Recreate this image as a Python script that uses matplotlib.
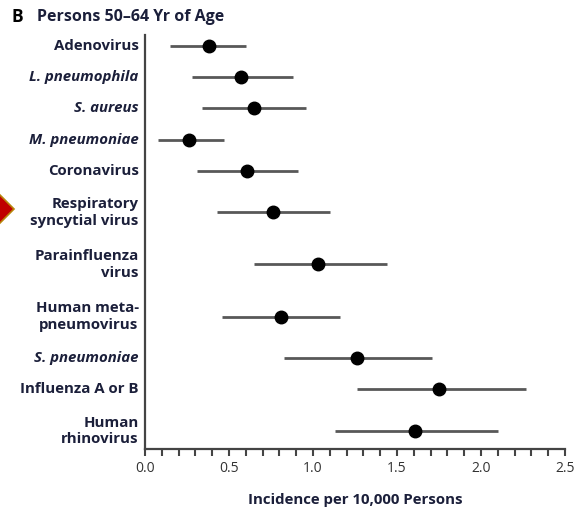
import numpy as np
import matplotlib
matplotlib.use("Agg")
import matplotlib.pyplot as plt
from matplotlib.patches import Polygon

# data
labels = ["Adenovirus", "L. pneumophila", "S. aureus", "M. pneumoniae", "Coronavirus",
          "Respiratory\nsyncytial virus", "Parainfluenza\nvirus", "Human meta-\npneumovirus",
          "S. pneumoniae", "Influenza A or B", "Human\nrhinovirus"]
italic = [False, True, True, True, False, False, False, False, True, False, False]
incidence = [0.38, 0.57, 0.65, 0.26, 0.61, 0.76, 1.03, 0.81, 1.26, 1.75, 1.61]
ci_low = [0.15, 0.28, 0.34, 0.08, 0.31, 0.43, 0.65, 0.46, 0.83, 1.26, 1.13]
ci_high = [0.60, 0.88, 0.96, 0.47, 0.91, 1.10, 1.44, 1.16, 1.71, 2.27, 2.10]
xticks = [0.0, 0.5, 1.0, 1.5, 2.0, 2.5]

W, H = 586, 513
fig = plt.figure(figsize=(W / 100, H / 100), dpi=100)
fig.patch.set_facecolor("white")

# axes box in pixels: left 145, right 565, top 35, bottom 449
ax = fig.add_axes([145 / W, 1 - 449 / H, 420 / W, 414 / H])

# row positions from number of label lines
nlines = np.array([l.count("\n") + 1 for l in labels])
heights = 1 + 0.67 * (nlines - 1)
centers = np.cumsum(heights) - heights / 2
k = 385 / (centers[-1] - centers[0])  # px per row unit
ax.set_ylim(centers[-1] + 18 / k, centers[0] - 11 / k)

label_color = "#1b1f3a"
fs = 10.8
inc = np.array(incidence)
ax.hlines(centers, ci_low, ci_high, color="#585858", lw=2.0, zorder=2)
ax.plot(inc, centers, "o", color="black", ms=9, zorder=3)

ax.set_xlim(0, 2.5)
ax.set_xticks(xticks)
ax.set_xticklabels([f"{t:.1f}" for t in xticks], color="#333333", fontsize=10,
                   family="Open Sans")
ax.set_xticks(np.arange(0, 2.51, 0.1), minor=True)
ax.tick_params(axis="x", which="both", direction="out", length=5, width=1.5,
               color="#444444", pad=4)
ax.set_yticks([])

for s in ["top", "right"]:
    ax.spines[s].set_visible(False)
for s in ["left", "bottom"]:
    ax.spines[s].set_color("#444444")
    ax.spines[s].set_linewidth(1.6)

for lab, c, it in zip(labels, centers, italic):
    ax.text(-0.015, c, lab, ha="right", va="center", fontsize=fs, fontweight="bold",
            style="italic" if it else "normal", color=label_color, family="Open Sans",
            linespacing=1.25, transform=ax.get_yaxis_transform())

ax.set_xlabel("Incidence per 10,000 Persons", fontsize=fs, fontweight="bold",
              color=label_color, family="Open Sans", labelpad=12)

fig.text(11 / W, 1 - 17 / H, "B", fontsize=12.5, fontweight="bold", color="black",
         va="center", ha="left", family="Open Sans")
fig.text(37 / W, 1 - 17 / H, "Persons 50\u201364 Yr of Age", fontsize=11.5,
         fontweight="bold", color=label_color, va="center", ha="left", family="Open Sans")

# red pointer marker at left edge
pts = np.array([[-14, 209], [0, 195], [14, 209], [0, 223]], dtype=float)
pts[:, 0] /= W
pts[:, 1] = 1 - pts[:, 1] / H
fig.patches.append(Polygon(pts, closed=True, transform=fig.transFigure,
                           facecolor="#c00000", edgecolor="#b8860b", lw=1.2))

fig.savefig("out.png", dpi=100)
